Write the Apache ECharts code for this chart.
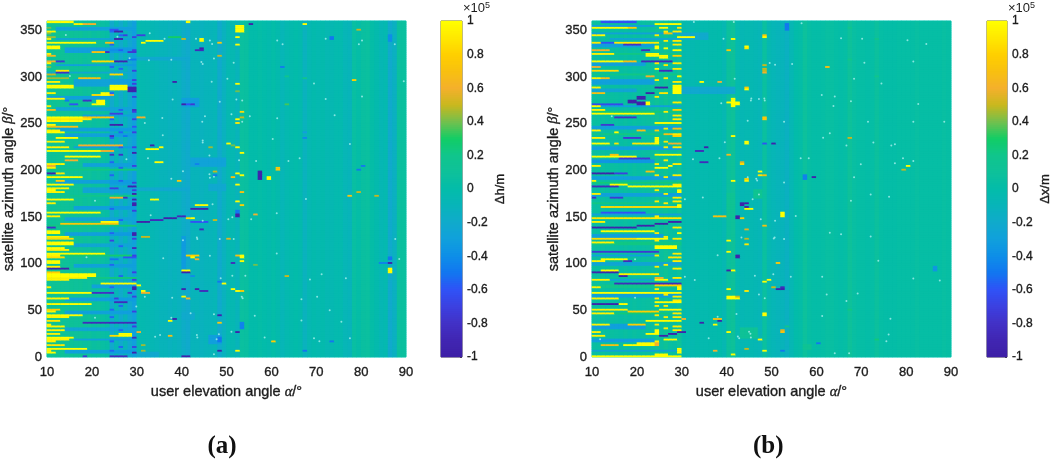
<!DOCTYPE html>
<html><head><meta charset="utf-8">
<style>html,body{margin:0;padding:0;background:#fff}#c{width:1052px;height:463px}#c canvas{filter:blur(.5px)}</style>
<script src="https://cdn.jsdelivr.net/npm/echarts@6/dist/echarts.min.js"></script></head>
<body><div id="c"></div><script>
const Y=1,D=-.95;
const elevationTicks=[10,20,30,40,50,60,70,80,90];
const azimuthTicks=[0,50,100,150,200,250,300,350];
const colorStops=['#3e1fa6','#4026b2','#4231c6','#3c40e0','#3052f6','#1276f0','#0e8ee8','#10a0dc','#10aacc','#08b4ba','#03bcaa','#0ec19a','#10c58c','#12cd66','#72c04e','#c8b81e','#f4b02c','#f8c010','#ffcf00','#ffe800','#ffff00'];
const baseA=[.13,.12,.14,.12,.1,.12,.1,.12,.08,.1,.06,.08,.05,.04,-.2,-.08,-.2,-.1,-.22,-.3,-.03,-.04,-.05,-.06,-.08,-.1,-.1,-.12,-.1,-.12,-.17,-.2,-.1,-.1,-.12,-.1,-.1,-.08,-.2,-.12,-.05,-.05,-.1,.07,.06,0,0,.02,0,-.02,.01,-.02,-.08,-.04,-.02,0,-.02,-.12,-.05,-.02,-.04,-.02,-.05,-.05,-.03,-.03,-.08,-.1,.05,.02,.06,.07,.02,-.02,-.06,-.04,-.2,-.14,.07,.07];
const baseB=[.06,.05,.06,.04,.06,.05,.04,.06,.03,.06,.04,.05,.06,.06,.12,.06,.12,.05,.04,.1,-.02,-.03,-.04,-.02,-.03,-.03,-.02,-.02,-.01,-.05,.08,.11,-.03,-.06,-.05,-.05,-.06,-.08,.07,-.05,-.08,-.1,-.1,-.14,-.06,0,.02,.09,.04,.02,.02,.03,.05,.05,.03,.02,.03,.1,.05,.03,.03,.02,.03,.08,.03,.02,.02,.02,.03,.03,.03,.03,.05,.03,.03,.03,.03,.03,.05,.04];
const bandsA=[[12,30,350,354,-.28],[12,30,340,343,-.25],[14,30,327,333,-.3],[12,30,312,314,-.3],[10,30,304,306,-.22],[16,30,291,298,-.28],[10,24,277,281,-.3],[12,30,265,269,-.25],[18,30,258,260,-.28],[12,30,243,246,-.3],[14,30,236,240,-.28],[16,30,224,226,-.3],[18,30,204,209,-.28],[10,30,201,203,.22],[12,30,187,190,-.3],[18,30,177,182,-.25],[10,30,172,175,.2],[16,30,158,162,-.3],[14,30,146,150,-.25],[10,30,141,143,.22],[14,30,131,135,-.3],[16,30,119,122,-.24],[12,30,108,110,.25],[16,30,96,100,-.28],[14,30,84,86,.22],[20,30,75,78,-.28],[14,30,61,64,-.3],[14,30,47,50,-.28],[14,30,28,32,-.24],[16,30,18,21,-.3],[14,30,5,9,-.3],[30,42,318,322,-.2],[30,42,178,182,-.2],[40,41,95,130,-.3],[30,35,0,6,-.2],[42,50,205,214,-.25],[46,50,178,186,-.2],[40,44,268,278,-.28],[40,43,40,48,-.18],[46,49,14,24,-.28]];
const yellowEdgeA=[[349,12],[341,11],[326,11],[315,11],[296,13],[283,12],[278,14],[269,11],[243,13],[232,14],[225,15],[208,14],[203,12],[182,15],[177,14],[166,12],[152,13],[130,15],[116,15],[110,13],[98,13],[85,19],[83,15],[75,11],[63,15],[50,12],[43,15],[36,11],[30,14],[26,13],[19,15],[17,12],[7,11]];
const darkAt29A=[343,330,308,294,280,263,256,242,226,206,188,179,157,128,110,92,84,66,50,33,12];
const darkAt24A=[350,335,312,284,256,236,210,196,160,133,100,76,52,44,18,8];
const darkAt26A=[345,330,309,266,242,226,204,190,148,120,88,56,30,12];
const streaksA=[
[10,16,359,Y],[16,18,357,.95],[18,21,358,.6],[10,11,354,.4],[10,11,347,.42],[10,12,344,.45],[10,21,338,Y],[23,25,338,.7],[25,27,341,D],[24,26,351,-.6],[27,28,345,-.7],[25,27,350,D],
[10,13,331,Y,334],[20,23,328,.7],[23,24,328,-.8],[24,26,329,-.4],[28,30,328,-.75],[10,12,323,.65],[10,12,318,.6],[12,14,318,-.75],[20,25,318,.85],[25,28,318,-.9],[28,30,320,-.5],[10,11,312,.4],[12,15,308,.9],[12,15,305,-.8],[24,27,303,.85],[10,12,303,.5],[29,30,297,-.7],[10,15,300,.45],[17,22,300,.7],
[10,16,288,Y,292],[24,28,286,Y,292],[28,30,285,D,291],[22,24,281,Y,285],[20,22,281,.85],[20,22,270,Y,273],[21,23,271,Y,276],[18,20,275,-.8],[14,15,275,-.5],[15,17,272,-.6],[24,25,281,.6],[10,12,266,.7],[29,30,266,-.8],[24,27,262,-.7],[10,18,258,Y],[18,25,258,.75],[10,20,256,.9],[10,18,253,Y],[10,12,250,Y],[24,27,250,D],[29,30,248,-.6],[10,17,247,.7],[10,14,241,Y],[24,25,238,-.8],[27,28,238,-.5],[12,17,235,Y],[24,25,228,-.6],[17,27,227,.6],[10,22,222,Y],[22,25,222,.6],[24,25,218,-.8],[26,27,218,-.8],[29,30,220,D],[14,22,215,Y],[14,17,211,.6],[10,12,206,.6],[10,12,198,D],[12,14,198,.9],[10,18,193,Y],[12,14,190,.8],[10,16,186,Y],[24,29,186,-.3],[28,30,183,D],[24,26,181,-.7],
[10,12,179,Y],[29,30,174,D,177],[10,16,170,Y],[24,27,171,.6],[27,28,171,-.8],[29,30,170,D],[29,30,163,D,167],[10,22,156,Y],[13,26,143,.75],[22,26,144,Y,147],[10,12,139,-.8],[10,13,132,Y,137],[29,30,131,D,135],[24,25,126,-.7],[10,16,127,.85],[10,16,121,Y,125],[10,14,118,Y],[10,23,112,Y],[29,30,116,-.85,118],[24,26,106,-.5],[10,14,107,.85],[27,30,108,-.6],[10,13,101,Y,104],[10,15,95,D],[10,21,87,Y,91],[10,13,92,.8],[22,30,79,Y],[29,30,72,D,76],[10,20,69,Y],[20,25,69,-.8],[28,29,69,-.75],[25,26,64,-.7],[25,28,59,-.85],[10,20,57,Y],[10,13,52,.8],[10,18,46,Y],[10,13,40,.9],[18,30,38,-.85],[10,14,33,.95],[10,16,22,Y],[24,26,24,.85],[26,29,23,Y,26],[29,30,22,-.85],[10,14,14,.9],[10,19,10,Y],[10,12,6,Y],[29,30,6,D],[24,28,2,-.85],[18,19,2,-.75],
[31,32,338,Y],[30,32,345,-.7],[32,36,340,Y],[37,40,343,.3],[38,39,295,D],[30,32,258,.6],[33,34,228,D],[32,35,223,Y],[35,36,225,Y],[34,36,210,Y],[39,40,190,.75],[41,42,359,Y],[40,41,342,.5],[44,45,341,Y],[44,45,332,D],[40,41,272,D],[41,42,272,-.6],[33,35,170,Y],[30,31,78,Y],[31,32,72,Y],[31,33,69,.6],[31,33,130,.5],[37,38,40,Y],[38,39,41,D],[37,38,23,.7],[30,31,27,.6],[31,32,14,.45],[31,32,8,.45],[40,42,94,Y],[40,42,92,D],[40,41,66,Y],[41,42,63,.6],[40,41,74,D],[43,44,74,D],[40,42,2,D],[41,44,110,.8],[30,33,146,D],[33,36,147,-.85],[36,39,149,D],[39,41,151,-.85],[41,43,150,.85],[42,46,145,-.6],[42,43,87,-.4],
[52,54,349,Y,357],[52,53,343,Y],[52,53,335,Y],[44,45,339,Y],[48,49,338,.75],[43,45,330,-.85],[48,49,323,.5],[52,53,293,Y],[52,53,285,.4],[67,68,358,Y],[79,80,351,.5],[78,79,297.5,.8],[55,56,358,D],[53,54,264,.85],[52,53,255.5,Y],[52,53,251.5,.9],[53,54,257,.5],[50,51,229.5,Y],[51,52,228,.4],[52,53,224,Y,227],[53,54,220,Y],[46,47,225,.45],[42,43,271,-.75],[57,58,190,D,200],[59,60,190,Y,195],[61,62,201,.75,205],[52,53,198,Y],[53,54,196,Y],[52,53,186,Y],[51,52,194,.7],[47,48,200,.5],[47,48,196,-.5],[73,74,340,-.5,344],[86,87,338,-.4,346],[62,63,311,-.48],[67,68,300,.2],[63,64,301,.18],[67,68,236,-.42],[67,68,242,-.3],[79,80,202,-.5],[80,81,206,-.48],[43,44,207,-.45],[63,64,272,.35],
[43,46,164,Y],[42,46,160,D],[42,43,150,Y],[47,48,148,.5],[44,45,137,-.85],[52,53,168,Y],[53,54,178,.7],[53,54,163,.8],[52,53,150,D,154],[52,53,155,-.5,158],[56,57,153,.6],[50,51,127,.55],[42,43,107,Y],[43,44,106,.6],[53,54,107,Y,111],[52,53,109,.7],[53,54,103,Y],[51,52,102,-.85],[56,57,100,.4],[77,78,173,.75],[79,80,176.5,.5],[83,84,174,.5],[86,87,100,D,103],[86,87,90,Y,97],[86,87,104,-.5,108],[84,86,102,-.45],[63,64,87,.5],[49,50,79,Y],[48,49,82,-.5],[51,52,74,Y],[52,53,72,Y],[53,54,72,.8],[44,46,71.5,-.85],[48,49,46,D],[48,49,38,.75],[52,53,27,D],[53,54,30,-.45,38],[52,53,6,Y,9],[60,61,16.5,.8],[48,49,8,D],[48,49,16,-.5,22],[67,68,8,-.5],[73,74,18,-.5]];
const dotsA=[[43.2,341],[46.3,339],[46.8,335.4],[47.2,319.7],[44.7,314],[51.6,315.4],[46.7,295],[50.2,298],[61.3,339],[62.5,335],[72.1,341],[80.2,339],[79.5,335],[87.5,335],[69.5,293],[89.5,295.4],[52.2,276],[53.5,274.7],[48.5,273.6],[72.1,276.5],[80.2,279],[45.2,258],[44.6,252],[53.5,252],[55.2,258],[51.1,260],[61.3,255.8],[74.1,259],[44.7,229.7],[60.3,233.6],[77.5,228.3],[46.2,215.8],[56.6,210],[52.8,210.8],[63.8,210],[66.3,213],[46.2,195.8],[46.3,192],[47.2,193],[46.9,163.6],[67.7,169.3],[51.3,149.7],[50.4,147.5],[55.5,147.5],[61.2,154],[44.7,146],[43.5,126.4],[48.5,126.4],[51.6,126.4],[46.3,108.6],[61.2,111],[87.6,126.4],[88.5,105],[71.2,88.6],[68.6,83],[76.6,84.3],[51.3,87],[54.2,87],[48.7,84.3],[53.4,64.6],[53.6,62.9],[66.7,61.8],[70.2,64.6],[73,50],[56.3,44.3],[47.2,45.7],[66.7,39],[75.6,37.9],[51.1,27],[48.3,24.3],[43.5,21],[58.5,21],[69.5,20],[70.7,17],[77.5,20],[47.8,19],[47.2,3],[42,47],[14.2,345],[25.7,343],[32.9,347],[36.2,341],[37.7,318.6],[32.7,318],[44.4,316],[28.4,320],[15.1,301],[38,276],[44.7,232],[35.7,256],[35.8,237.5],[31.8,250.7],[27.7,212],[37.7,191],[40.3,199],[32.5,213],[20.7,167.5],[33.1,152],[18.8,107],[35.9,105.7],[43.4,128],[40.3,125],[37.9,63.6],[31.8,64.6],[20.7,42],[37.7,42],[35.2,23.6],[34.1,21.8],[43.4,23.6],[29.9,54]];
const bandsB=[[10,24,355,357,-.3],[10,30,346,349,-.28],[14,30,340,342,-.25],[10,24,332,336,-.3],[10,30,325,327,.22],[10,22,312,316,-.28],[10,30,303,305,.22],[10,24,292,298,-.3],[10,20,285,288,-.25],[10,30,268,270,-.3],[10,30,263,265,.25],[10,30,245,248,-.3],[10,30,238,241,.22],[10,30,222,226,-.3],[10,24,208,212,-.35],[10,30,190,195,-.3],[10,30,186,188,.25],[10,30,172,176,-.3],[10,30,164,167,.22],[10,30,152,154,-.28],[10,26,129,133,-.3],[10,30,120,124,.22],[10,24,109,111,-.3],[10,30,98,102,-.25],[10,30,82,85,-.25],[10,30,74,78,.2],[10,30,64,68,-.28],[10,30,46,49,.25],[10,22,30,36,-.3],[10,24,17,21,-.3],[10,30,6,9,-.25],[30,42,283,290,-.22],[30,36,340,348,-.2],[40,42,150,176,.15],[46,48,170,180,.15],[53,54,350,358,-.45],[57,58,190,196,-.45],[43,47,20,32,.12],[57,59,8,14,.15]];
const yellowAt24B=[345,337,316,297,280,208,196,180,168,152,133,125,110,98,74,64,55,45,36,18];
const yellowAt26B=[350,339,313,300,263,245,226,212,193,176,165,130,100,67,56,44,32];
const yellowAt28B=[349,340,335,315,310,295,274,260,255,240,225,208,195,186,172,168,140,128,111,103,95,86,66,62,47,44,34,30];
const yellowEdgeB=[[346,13],[325,15],[300,14],[290,12],[265,13],[244,12],[236,13],[205,12],[190,11],[175,12],[146,13],[124,15],[103,13],[84,14],[76,12],[63,16],[52,18],[47,15],[36,14],[28,12],[24,13]];
const streaksB=[
[12,20,359,-.6],[24,30,357,Y],[10,18,353,Y],[18,20,353,.8],[25,27,354,Y],[29,30,353,.9],[12,13,346,Y],[29,33,344,Y],[26,28,347,.7],[10,24,338,.9],[12,15,337,-.6],[17,21,335,-.8],[24,25,330,Y,334],[26,27,331,Y],[28,30,330,Y],[21,23,329,-.85],[10,14,329,.6],[22,25,322,Y,326],[25,27,320,Y,324],[28,30,324,.8],[10,17,318,Y],[17,20,318,.7],[21,28,318,-.85],[10,12,311,.6],[24,25,310,Y],[10,16,307,.85],[25,28,307,-.85],[29,30,301,Y],[12,14,300,.7],[22,24,302,.6],[28,30,292,Y],[24,27,288,D,291],[28,30,282,Y,292],[25,27,284,.9],[22,24,282,D,285],[10,13,283,.7],[20,22,276,D,280],[18,20,272,D,277],[20,22,270,D,274],[22,23,270,Y,275],[10,17,272,-.65],[10,12,270,Y],[28,30,266,.8],[10,24,261,Y],[15,20,257,-.8],[24,30,252,Y],[12,15,250,-.75],[28,30,246,.7],[15,16,241,Y],[24,25,243,.8],[20,22,243,.7],[26,28,240,.7],[17,21,235,-.75],[10,14,230,Y],[15,16,230,.9],[19,24,230,.9],[24,25,228,Y,236],[26,27,232,.9],[27,30,230,.6],[28,30,237,.8],[10,20,216,Y],[24,30,216,Y,219],[14,16,218,.7],[16,23,213,-.75],[24,27,202,Y,205],[27,28,206,Y],[10,15,198,D],[15,18,198,-.7],[22,24,200,.7],[10,16,183,-.85],[14,18,185,Y],[18,30,184,Y],[29,30,176,Y,180],
[14,17,171,-.75],[10,11,171,-.8],[12,30,162,.85],[29,30,160,Y,165],[12,22,155,-.6],[10,30,149,.9],[10,15,139,D],[15,20,140,D],[20,24,142,D],[24,27,144,D],[27,30,146,D],[12,24,136,Y],[29,30,132,Y,134],[10,20,127,.85],[20,27,127,Y],[24,29,117,Y,121],[10,25,114,-.75],[12,18,105,Y],[17,19,104,-.85],[27,30,107,.9],[12,16,94,Y],[10,16,92,D],[16,18,88,D],[16,25,90,.95],[24,27,83,Y],[24,26,85,.6],[15,30,80,-.85],[24,30,78,.8],[29,30,72,Y,76],[10,30,70,Y],[24,30,60,Y],[10,16,58,D],[16,18,58,Y],[25,30,52,Y],[18,25,50,.8],[22,30,40,Y],[30,31,41,.6],[18,22,36,.8],[24,25,24,Y,30],[25,27,24,D],[27,29,25,D],[22,24,25,Y],[26,29,20,Y],[29,31,27,D],[20,24,12,Y,16],[24,25,12,.6,16],[17,20,14,Y],[12,16,13,.7],[24,27,3,Y,5],[29,30,4,Y,10],[10,24,2,Y],[24,30,2,Y],
[34,35,38,D],[37,38,35,Y],[38,39,40,D],[37,39,41,.7],[40,41,94,D],[41,42,94,Y],[40,41,73,Y],[40,43,63,Y,66],[40,41,125,Y],[40,41,113,Y],[42,43,109,D],[43,45,166,D],[44,46,160,Y],[42,43,152,D],[37,40,152,.7],[48,49,48,Y],[49,50,84,Y],[52,53,150,Y,156],[52,53,75,-.85],[51,53,73,D],[44,45,138,.8],[40,41,27,Y],[52,53,29,.55],[41,42,3,Y],[37,38,8,.6],[34,35,296,Y],[38,39,296,.6],[44,45,289,.75],[41,42,268,Y,278],[40,43,273,Y],[40,41,329,.75],[44,45,333,Y],[41,42,342,Y],[48,49,346,.75],[48,49,309,.5],[48,49,258,.75],[41,42,237,Y],[44,45,232,Y],[33,35,222,-.85],[35,36,225,D],[34,36,210,-.85],[40,41,218,.65],[43,44,209,.55],[47,48,199,Y],[41,42,188,Y,191],[44,45,192,.8],
[48,49,344,Y],[44,45,331,.9],[48,49,313,.5],[48,49,308,.5],[48,49,305,.6],[62,63,311,.7],[44,45,287,Y],[48,49,255,.75],[67,68,236,.5],[44,45,229,Y],[48,49,229,-.6],[50,51,229,D],[43,44,207,.85],[47,48,200,Y],[47,48,196,.9],[48,49,196,.7],[44,45,190,.95],[57,58,190,-.45,196],[59,60,193,D],[80,81,206,Y],[79,80,202,.5],[73,74,342,.2],[67,68,354,.2],[67,68,319,.2],[73,74,302,.2],[42,43,271,Y],
[43,44,164,D],[44,45,162,D],[44,46,159,Y],[42,43,150,D],[43,44,149,.8],[44,45,137,.55],[48,49,142,.7],[44,45,128,.5],[44,45,121,.9],[42,43,107,D],[51,52,102,.75],[48,49,81,Y],[50,51,76,.5],[44,45,71,.9],[42,43,65,.5],[48,49,46,Y],[52,53,27,.7],[53,54,34,.2],[47,48,19,Y],[48,49,8,Y],[52,53,7,-.5],[60,61,16,-.5],[86,87,93,-.35,98],[67,68,52,.22],[73,74,20,.25],[44,45,10,.5]];
const dotsB=[[56.7,357.6],[65.5,341.5],[70.2,341],[80.3,339.4],[84.5,335.4],[81.6,316.5],[70.7,315.4],[50.8,313],[49.6,315],[54.6,314],[68.4,298],[74.5,293],[61.2,280.8],[64.1,279],[63.8,269],[67.7,274],[47.2,276.5],[48.5,274.7],[45.4,274.7],[82.7,271],[44.7,253],[52.8,252],[71.5,252],[81.6,252],[88.5,252],[63,239.7],[61.5,235],[66.7,226.5],[72.7,229.7],[76.7,226.5],[77.5,228],[56.5,213],[58.3,213],[69.9,206.5],[77.5,207.6],[81.6,210],[79.3,213],[46.8,189],[52.8,186.9],[68.4,192.6],[47.2,174],[45.8,169],[67.7,167.5],[72.1,174],[76.2,171.8],[55.4,151],[47.6,147.5],[50.8,146],[63,133],[65.5,131.4],[72.1,129],[50.5,127],[52.8,126.4],[73.8,103],[46.3,87],[50.4,88.6],[54.3,86],[61.3,86],[81.6,84],[87.5,82],[47.2,67],[48.5,63],[62.3,67],[69.2,68],[66.7,60],[42.2,46],[61.3,44],[76.5,41],[45.3,25],[45.4,21],[42.8,20],[76.1,24],[75.6,17],[64.1,4],[67.3,4],[32.9,82.5],[30.7,86],[19.6,104.6],[38,109],[43.3,128],[50.7,128],[30.7,169],[34.7,171],[36,20],[42.5,22],[45,27],[19.6,63.6],[38,43],[11.8,19],[32.7,359],[41.6,359],[39.3,341],[41.8,298],[38.8,272],[45.5,277],[48.4,277],[14.4,258],[39.6,230],[32.5,212],[38.4,213],[46.6,191],[44.7,192.5]];

const COLS=80,ROWS=180,colorLevels=168;
const extrasA=[...yellowEdgeA.map(a=>[10,a[1],a[0],.95]),...darkAt29A.map(a=>[29,30,a,-.7]),...darkAt24A.map(a=>[24,25,a,-.55]),...darkAt26A.map(a=>[26,27,a,-.55])];
const extrasB=[...yellowEdgeB.map(a=>[10,a[1],a[0],.95]),...yellowAt24B.map(a=>[24,25,a,.92]),...yellowAt26B.map(a=>[26,27,a,.92]),...yellowAt28B.map(a=>[28,30,a,.92])];
function cells(base,bands,extras,streaks){
  const g=[];
  for(let r=0;r<ROWS;r++){g.push(base.slice());}
  function paint(e0,e1,a0,a1,v){
    for(let c=Math.max(0,Math.floor(e0-10));c<Math.min(COLS,Math.ceil(e1-10));c++)
      for(let r=0;r<ROWS;r++){const m=r*2+1;if(m>=a0&&m<a1)g[r][c]=v;}
  }
  bands.forEach(b=>{for(let c=Math.floor(b[0]-10);c<Math.ceil(b[1]-10);c++)for(let r=0;r<ROWS;r++){const m=r*2+1;if(m>=b[2]&&m<b[3])g[r][c]=base[c]<-.05?b[4]*1.1:b[4];}});
  [...extras,...streaks].forEach(s=>{if(s.length===5)paint(s[0],s[1],s[2],s[4],s[3]);else paint(s[0],s[1],s[2]-1,s[2]+1,s[3]);});
  const out=[];
  for(let r=0;r<ROWS;r++)for(let c=0;c<COLS;c++)out.push([c,r,g[r][c]]);
  return out;
}
const colNames=Array.from({length:COLS},(_,i)=>i+10),rowNames=Array.from({length:ROWS},(_,i)=>i*2);
const barRows=Array.from({length:colorLevels},(_,i)=>i),barData=barRows.map(i=>[0,i,-1+2*(i+.5)/colorLevels]);
const FONT='"Liberation Sans",Arial,sans-serif',INK='#1c1c1c';
const txt={fontFamily:FONT,fontSize:13,color:INK,textBorderColor:INK,textBorderWidth:.35};
const rich={n:{...txt,fontSize:14.5},i:{...txt,fontSize:14.5,fontStyle:'italic',fontFamily:'"Liberation Serif",serif'}};
const panels=[
 {l:47,bar:441,barW:21,xn:'{n|user elevation angle }{i|α}{n|/°}',yn:'{n|satellite azimuth angle }{i|β}{n|/°}',bn:'Δh/m',tag:'(a)',tagX:222.5,base:baseA,bands:bandsA,extras:extrasA,streaks:streaksA,dots:dotsA},
 {l:592,bar:987,barW:20,xn:'{n|user elevation angle }{i|α}{n|/°}',yn:'{n|satellite azimuth angle }{i|β}{n|/°}',bn:'Δx/m',tag:'(b)',tagX:768,base:baseB,bands:bandsB,extras:extrasB,streaks:streaksB,dots:dotsB}];
const opt={animation:false,grid:[],xAxis:[],yAxis:[],series:[],graphic:[],
 visualMap:{show:false,type:'continuous',min:-1,max:1,seriesIndex:[],inRange:{color:colorStops}}};
const hiddenCat=d=>({type:'category',data:d,show:false});
panels.forEach(p=>{
  const gi=opt.grid.length;
  opt.grid.push({left:p.l,top:21,width:359,height:336,outerBoundsMode:'none',show:true,borderColor:'#35d6cc',borderWidth:1,backgroundColor:'#05baa8'});
  const xc=opt.xAxis.length,yc=opt.yAxis.length;
  opt.xAxis.push({...hiddenCat(colNames),gridIndex:gi});
  opt.yAxis.push({...hiddenCat(rowNames),gridIndex:gi});
  opt.xAxis.push({gridIndex:gi,type:'value',min:10,max:90,interval:10,position:'bottom',splitLine:{show:false},axisLine:{show:false},axisTick:{show:false},
    axisLabel:{...txt,margin:9,customValues:elevationTicks},name:p.xn,nameLocation:'middle',nameGap:26,nameTextStyle:{rich}});
  opt.yAxis.push({gridIndex:gi,type:'value',min:0,max:360,interval:50,position:'left',splitLine:{show:false},axisLine:{show:false},axisTick:{show:false},
    axisLabel:{...txt,margin:5,customValues:azimuthTicks},name:p.yn,nameLocation:'middle',nameGap:30,nameRotate:90,nameTextStyle:{rich}});
  const si=opt.series.length;
  opt.visualMap.seriesIndex.push(si);
  opt.series.push({type:'heatmap',xAxisIndex:xc,yAxisIndex:yc,data:cells(p.base,p.bands,p.extras,p.streaks),progressive:0,silent:true,emphasis:{disabled:true}});
  opt.series.push({type:'scatter',xAxisIndex:xc+1,yAxisIndex:yc+1,data:p.dots,symbolSize:2,silent:true,itemStyle:{color:'#a8f0ee'},z:5});
  const gb=opt.grid.length;
  opt.grid.push({left:p.bar,top:21,width:p.barW,height:336,outerBoundsMode:'none',show:true,borderColor:'#555',borderWidth:1,backgroundColor:'transparent'});
  const xb=opt.xAxis.length,yb=opt.yAxis.length;
  opt.xAxis.push({...hiddenCat(['c']),gridIndex:gb});
  opt.yAxis.push({...hiddenCat(barRows),gridIndex:gb});
  opt.yAxis.push({gridIndex:gb,type:'value',min:-1,max:1,interval:.2,position:'right',splitLine:{show:false},axisLine:{show:false},
    axisTick:{show:true,inside:true,length:2,lineStyle:{color:'#444'}},axisLabel:{...txt,fontSize:12,margin:5,formatter:v=>String(+v.toFixed(1))},
    name:p.bn,nameLocation:'middle',nameGap:32,nameRotate:90,nameTextStyle:{...txt,fontSize:13}});
  const sb=opt.series.length;
  opt.visualMap.seriesIndex.push(sb);
  opt.series.push({type:'heatmap',xAxisIndex:xb,yAxisIndex:yb,data:barData,progressive:0,silent:true,emphasis:{disabled:true}});
  opt.graphic.push({type:'text',left:p.bar+p.barW+1,top:1,style:{text:'×10{s|5}',font:'13px '+FONT,fill:INK,rich:{s:{fontSize:9,verticalAlign:'top',lineHeight:14,fontFamily:FONT,color:INK}}}});
  opt.graphic.push({type:'text',left:p.tagX-15,top:434,style:{text:p.tag,font:'bold 25px "Liberation Serif",serif',fill:'#111'}});
});
echarts.init(document.getElementById('c'),null,{renderer:'canvas'}).setOption(opt);
</script></body></html>
